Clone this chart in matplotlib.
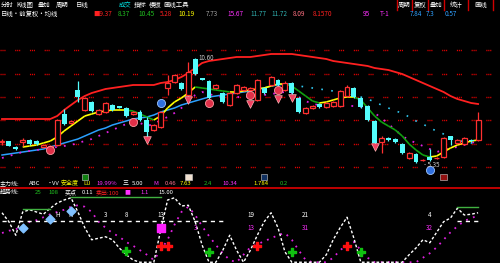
import numpy as np
import matplotlib
matplotlib.use("Agg")
import matplotlib.pyplot as plt
from matplotlib.collections import LineCollection
from matplotlib.lines import Line2D

plt.rcParams['font.family'] = ['Noto Sans CJK SC', 'DejaVu Sans']

# ---------------- data ----------------
opens = [6.4,6.45,6.15,6.4,6.5,6.45,6.15,6.15,6.25,7.8,7.35,9.0,8.0,8.4,7.8,7.9,8.25,8.18,8.1,7.8,
         7.9,7.5,7.0,7.15,9.1,9.4,9.35,8.75,10.55,9.58,9.45,9.1,8.85,8.25,8.85,9.0,9.0,8.5,9.1,9.25,
         9.5,9.0,9.35,8.6,7.85,8.1,8.3,8.15,8.2,8.2,8.7,9.1,8.6,8.2,7.45,6.4,6.6,6.55,6.3,5.6,
         5.8,5.48,5.65,5.58,5.65,6.7,6.35,6.3,6.5,6.5]
closes = [6.45,6.2,6.05,6.5,6.3,6.3,6.25,6.2,7.5,7.3,7.45,8.65,8.6,7.95,8.0,8.35,8.0,8.12,7.7,7.9,
          7.5,6.9,7.25,7.9,9.35,9.75,9.05,9.9,9.8,9.52,8.6,9.25,8.4,8.85,9.25,9.15,9.1,9.5,8.85,9.65,
          9.25,9.35,8.85,7.9,8.1,8.2,8.15,8.35,8.4,8.95,9.15,8.65,8.15,7.5,6.35,6.6,6.5,6.4,5.85,5.85,
          5.4,5.52,5.5,5.62,6.6,6.5,6.5,6.6,6.45,7.5]
highs = [6.55,6.45,6.2,6.6,6.55,6.5,6.3,6.25,7.55,8.05,7.5,9.45,8.65,8.45,8.05,8.4,8.3,8.2,8.15,7.95,
         8.0,7.65,7.3,7.95,9.75,9.8,9.4,10.4,10.6,9.6,9.5,9.3,8.9,8.9,9.3,9.2,9.15,9.55,9.15,9.7,
         9.55,9.45,9.4,8.65,8.15,8.25,8.35,8.4,8.45,9.0,9.25,9.15,8.65,8.25,7.5,6.7,6.65,6.6,6.35,5.9,
         5.85,5.55,6.05,5.65,6.65,6.7,6.55,6.65,6.55,7.9]
lows = [6.25,6.2,6.0,6.2,6.25,6.25,6.1,6.1,6.2,7.25,7.3,8.4,7.95,7.9,7.75,7.85,7.95,8.1,7.65,7.75,
        7.45,6.65,6.95,7.1,8.75,9.35,9.0,8.4,9.75,9.5,8.55,9.05,8.35,8.2,8.8,8.95,8.9,8.45,8.8,9.2,
        9.2,8.95,8.8,7.85,7.8,8.05,8.1,8.1,8.15,8.15,8.65,8.6,8.1,7.45,6.3,5.85,6.45,6.35,5.8,5.55,
        5.35,5.45,5.45,5.55,5.6,6.25,6.3,6.25,6.4,6.45]

ma_long = [7.55,7.55,7.55,7.55,7.55,7.55,7.55,7.55,7.7,8.0,8.25,8.5,8.7,8.85,8.95,9.05,9.1,9.15,9.2,9.25,
           9.25,9.25,9.25,9.35,9.4,9.5,9.65,9.85,10.1,10.35,10.45,10.5,10.55,10.6,10.65,10.65,10.65,10.7,10.75,10.8,
           10.8,10.8,10.8,10.75,10.7,10.65,10.6,10.55,10.45,10.4,10.35,10.3,10.25,10.2,10.1,10.05,10.0,9.9,9.8,9.65,
           9.5,9.35,9.2,9.05,8.9,8.7,8.55,8.45,8.35,8.3]
ma_short = [np.nan,np.nan,np.nan,6.15,6.2,6.25,6.35,6.45,6.65,6.95,7.2,7.45,7.7,7.8,7.9,7.95,8.0,8.0,8.0,7.95,
            7.8,7.65,7.5,7.7,8.1,8.4,8.6,8.85,9.15,9.1,9.05,9.0,8.95,8.9,8.9,8.95,9.0,9.05,9.1,9.2,
            9.3,9.3,9.2,8.95,8.7,8.45,8.35,8.4,8.5,8.6,8.65,8.65,8.5,8.1,7.7,7.4,7.2,7.0,6.7,6.3,
            6.0,5.75,5.65,5.7,5.9,6.1,6.25,6.35,6.45,6.5]
ma_mid = [5.75,5.8,5.85,5.9,5.95,6.0,6.05,6.15,6.25,6.35,6.45,6.55,6.7,6.85,7.0,7.1,7.25,7.35,7.45,7.55,
          7.6,7.65,7.75,7.9,8.0,8.1,8.25,8.35,8.45,8.55,8.65,8.7,8.75,8.8,8.85,8.9,8.95,9.05,9.1,9.2,
          9.25,9.3,9.3,9.2,9.15,9.1,9.05,9.0,8.95,8.9,8.85,8.75,8.65,8.55,8.4,8.25,8.1,7.95,7.85,7.65,
          7.45,7.3,7.1,6.95,6.8,6.65,6.5,6.4,6.35,6.35]
ma_dot = [5.6,5.7,5.8,5.9,5.95,6.0,6.05,6.1,6.15,6.2,6.25,6.35,6.45,6.55,6.7,6.85,7.0,7.15,7.3,7.4,
          7.35,7.2,7.3,7.5,7.65,7.85,8.1,8.4,8.75,8.9,8.8,8.7,8.65,8.65,8.65,8.65,8.65,8.7,8.75,8.8,
          8.85,8.9,8.85,8.65,8.45,8.3,8.25,8.2,8.2,8.2,8.2,8.2,8.15,8.0,7.85,7.6,7.3,7.0,6.7,6.5,
          6.35,6.2,6.05,5.9,6.0,6.1,6.15,6.25,6.35,6.45]
grid_levels = [5.14, 6.31, 7.48, 8.65, 9.82, 10.99]

# signal markers on the price panel (candle index, price)
red_ball_idx = [7, 19, 30, 36, 40]
red_ball_val = [6.0, 7.4, 8.35, 8.75, 9.0]
blue_ball_idx = [23, 62]
blue_ball_val = [8.35, 5.0]
gem_idx = [21, 27, 36, 40, 42, 54]
gem_val = [6.5, 8.5, 8.3, 8.55, 8.6, 6.15]
icon_idx = [12, 27, 38, 64]
icon_colors = ['#108010', '#f0e0d0', '#103060', '#901010']
icon_val = 4.65

# lower indicator panel
ind_k = [67,55,37,68,71,68,65,73,80,84,87,68,47,31,33,35,31,20,11,4,
         1,1,1,44,84,87,76,77,55,24,1,1,17,37,17,1,17,37,55,67,
         47,15,1,1,1,1,1,11,31,47,61,33,1,1,1,1,1,1,1,11,
         20,31,27,41,55,60,73,64,65,67]
ind_d = [40,43,45,49,55,57,61,65,68,71,75,77,75,68,55,47,40,35,28,23,
         17,11,4,17,31,51,68,75,64,49,36,24,13,4,1,11,21,25,29,33,
         37,40,31,17,4,1,1,1,7,17,24,28,17,7,1,1,1,1,1,1,
         1,7,13,21,31,41,49,56,60,63]
mid_level = 56
green_levels = [(3, 7, 72), (10, 23, 88), (66, 69, 75)]
diamond_idx = [3, 7, 10]
diamond_val = [47, 59, 69]
up_arrow_idx = [18, 30, 42, 52]
up_arrow_val = [16, 15, 15, 15]
red_cross_idx = [23, 24, 37, 50]
red_cross_val = [23, 23, 23, 23]
mag_sq_idx = [23]
mag_sq_val = [47]

# text rows (text, colour, x pixel)
row1 = [("分时", 'white', 1), ("K线图", 'white', 16), ("叠加", 'white', 38), ("周期", 'white', 56),
        ("日线", 'white', 76), ("成交", '#00e0e0', 119), ("指标", 'white', 134), ("模板", 'white', 149),
        ("画线工具", 'white', 163)]
row2 = [("日线·前复权·均线", 'white', 1), ("■9.37", '#ff2020', 93), ("8.37", '#20c020', 118),
        ("10.45", '#20c020', 138), ("5.28", '#ff2020', 160), ("10.19", '#ffff00', 178),
        ("7.73", '#a0a0a0', 206), ("15.67", '#ff30ff', 227), ("11.77", '#30b0b0', 250),
        ("11.72", '#30b0b0', 271), ("8.09", '#ff7080', 293), ("8.1570", '#ff2020', 313),
        ("95", '#ff30ff', 363), ("T-1", '#ff30ff', 380), ("7.84", '#30a0ff', 410),
        ("7.3", '#30a0ff', 426), ("0.57", '#30a0ff', 445)]
buttons = ["周期", "复权", "叠加", "统计", "画线"]
row3 = [("主力线:", 'white', 0), ("ABC", 'white', 29), ("·VV", 'white', 47), ("安全度", '#ffff00', 61),
        ("LU", '#ffff00', 83), ("19.99%", '#ff30ff', 96), ("三", 'white', 123), ("5.00", 'white', 132),
        ("M:", '#ff30ff', 153), ("0.46", '#ff7090', 165), ("7.63", '#ffff00', 180), ("2.4", '#20c020', 204),
        ("10.34", '#ff30ff', 222), ("1.784", '#ffff00', 253), ("0.2", '#20c020', 280)]
row4 = [("趋势线:", 'white', 0), ("25", '#20c020', 35), ("108", '#20c020', 48), ("买点", 'white', 65),
        ("0.11", 'white', 82), ("卖出:100", '#ff2020', 96), ("■", '#ff30ff', 124), ("1.1", '#ff30ff', 140),
        ("15.00", 'white', 158)]
low_labels = [(8, 64, "H", 'white'), (10, 64, "H", 'white'), (15, 64, "3", 'white'), (18, 64, "8", 'white'),
              (23, 64, "13", 'white'), (36, 64, "19", 'white'), (44, 64, "21", 'white'),
              (36, 47, "13", '#ff30ff'), (44, 47, "31", '#ff30ff'), (28, 47, "3", '#ff30ff'),
              (62, 64, "4", 'white'), (62, 47, "32", '#ff30ff')]

# ---------------- figure ----------------
W, H = 500, 263
fig = plt.figure(figsize=(W / 100, H / 100), dpi=100, facecolor='black')
sep = 187.5
ax = fig.add_axes([0, (H - sep) / H, 1, sep / H], facecolor='black')
ax2 = fig.add_axes([0, 0, 1, (H - sep - 0.5) / H], facecolor='black')

n = len(opens)
xs = np.arange(n)
x0 = -2 / 6.9
x1 = (W - 2) / 6.9
for a in (ax, ax2):
    a.set_xlim(x0, x1)
    a.set_xticks([])
    a.set_yticks([])
    for s in a.spines.values():
        s.set_visible(False)
ax.set_ylim(13.5 - sep / 20, 13.5)
ax2.set_ylim(0, 100)

# grid (groups of red dots)
for g in grid_levels:
    ax.axhline(g, color='#e00000', lw=1.0, dashes=(0.8, 0.6, 0.8, 0.6, 0.8, 7))

# moving averages
ax.plot(xs, ma_long, color='#ff2020', lw=1.3, zorder=3)
ax.plot(xs[:43], ma_mid[:43], color='#2aa0ff', lw=1.1, zorder=3)
ax.plot(xs[42:], ma_mid[42:], color='#30c8f0', lw=1.2, dashes=(1, 5), zorder=3)
ax.plot(xs, ma_dot, color='#e020e0', lw=1.3, dashes=(1, 4), zorder=3)
ms = np.array(ma_short)
segs, cols = [], []
for i in range(1, n):
    if np.isnan(ms[i - 1]) or np.isnan(ms[i]):
        continue
    segs.append([(xs[i - 1], ms[i - 1]), (xs[i], ms[i])])
    cols.append('#ffff00' if ms[i] >= ms[i - 1] else '#10a010')
ax.add_collection(LineCollection(segs, colors=cols, linewidths=1.2, zorder=4))

# candles
o = np.array(opens); c = np.array(closes); h = np.array(highs); l = np.array(lows)
up = c >= o
dn = ~up
bw = 0.72
ax.vlines(xs[up], np.maximum(o, c)[up], h[up], color='#ff3030', lw=0.9, zorder=5)
ax.vlines(xs[up], l[up], np.minimum(o, c)[up], color='#ff3030', lw=0.9, zorder=5)
ax.bar(xs[up], (c - o)[up], bottom=o[up], width=bw, facecolor='black', edgecolor='#ff3030',
       linewidth=0.9, zorder=6)
ax.vlines(xs[dn], l[dn], h[dn], color='#54fcfc', lw=0.9, zorder=5)
ax.bar(xs[dn], (c - o)[dn], bottom=o[dn], width=bw, color='#54fcfc', linewidth=0, zorder=6)

# markers
ax.scatter(red_ball_idx, red_ball_val, s=34, color='#e03048', edgecolors='#ff9aa0', linewidths=0.6, zorder=8)
ax.scatter(blue_ball_idx, blue_ball_val, s=34, color='#3070e0', edgecolors='#a0c8ff', linewidths=0.6, zorder=8)
ax.scatter(gem_idx, gem_val, s=30, marker='v', color='#f04060', edgecolors='#ffb0b0', linewidths=0.5, zorder=8)
ax.scatter(icon_idx, [icon_val] * len(icon_idx), s=22, marker='s', color=icon_colors,
           edgecolors='#d0d0d0', linewidths=0.4, zorder=8)

# high / low labels
hi_i = int(np.argmax(h)); lo_i = int(np.argmin(l))
ax.text(hi_i + 0.5, h[hi_i], f"{h[hi_i]:.2f}", color='#c8c8c8', fontsize=4.5, va='center', ha='left', zorder=9)
ax.text(lo_i + 1.2, l[lo_i] - 0.1, f"- {l[lo_i]:.2f}", color='#c8c8c8', fontsize=4.5, va='center', ha='left', zorder=9)

# separator line
fig.add_artist(Line2D([0, 1], [(H - sep) / H] * 2, color='#e00000', lw=1.2))

# lower panel
ax2.plot(xs, ind_d, color='#e020e0', lw=1.3, dashes=(1, 3))
ax2.plot(xs, ind_k, color='white', lw=1.0, dashes=(2, 1.5))
ax2.plot(xs[:33], [mid_level] * 33, color='white', lw=1.0, dashes=(3, 3))
ax2.plot(xs[66:], [mid_level] * 4, color='white', lw=1.0, dashes=(3, 3))
for a0, a1, v in green_levels:
    ax2.plot([a0, a1], [v, v], color='#40b040', lw=1.0)
ax2.scatter(diamond_idx, diamond_val, s=20, marker='D', color='#80c0ff', zorder=6)
ax2.scatter(up_arrow_idx, up_arrow_val, s=28, marker='P', color='#10c010', zorder=6)
ax2.scatter(red_cross_idx, red_cross_val, s=28, marker='P', color='#ff1010', zorder=6)
ax2.scatter(mag_sq_idx, mag_sq_val, s=28, marker='s', color='#ff20ff', zorder=6)
for xi, v, t, col in low_labels:
    ax2.text(xi, v, t, color=col, fontsize=4.5, ha='center', va='center')

# text rows
def row(items, ypix, size=4.5):
    for t, col, xp in items:
        fig.text(xp / W, 1 - ypix / H, t, color=col, fontsize=size, ha='left', va='center')

row(row1, 5, 4.6)
row(row2, 13.5, 4.6)
row(row3, 183.5, 4.3)
row(row4, 192.5, 4.3)

# top-right buttons
seps = [397, 412, 428, 444, 468, 493]
for sx in seps:
    fig.add_artist(Line2D([sx / W] * 2, [1 - 10 / H, 1], color='#d00000', lw=1.0))
for k, t in enumerate(buttons):
    cx = (seps[k] + seps[k + 1]) / 2
    fig.text(cx / W, 1 - 5 / H, t, color='white', fontsize=4.6, ha='center', va='center')

fig.savefig('out.png', dpi=100, facecolor='black')
